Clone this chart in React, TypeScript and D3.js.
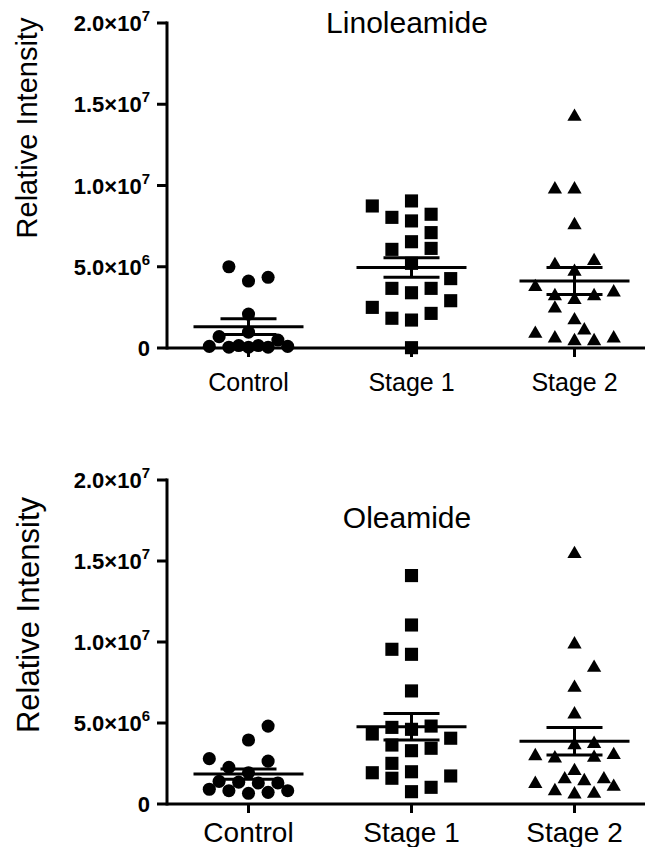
import React from 'react';
import * as d3 from 'd3';

// ---------- DATA (values in units of 1e6) ----------
const categories = ['Control', 'Stage 1', 'Stage 2'];
const yTickValues = [0, 5e6, 1e7, 1.5e7, 2e7];
const yTickMantissa = ['0', '5.0', '1.0', '1.5', '2.0'];
const yTickExponent = ['', '6', '7', '7', '7'];

// Linoleamide
const linoControl = [5.0, 4.35, 4.12, 2.09, 0.97, 0.7, 0.49, 0.1, 0.05, 0.15, 0.05, 0.15, 0.05, 0.1];
const linoControlLane = [-1, 1, 0, 0, 0, -1.5, 1.5, -2, -1, -0.5, 0, 0.5, 1, 2];
const linoStage1 = [8.74, 9.05, 8.04, 7.82, 8.23, 7.1, 6.54, 6.07, 6.13, 5.21, 4.27, 3.67, 3.4, 3.67, 2.91, 2.5, 1.83, 1.72, 2.13, 0.02];
const linoStage1Lane = [-2, 0, -1, 0, 1, 1, 0, -1, 1, 0, 2, -1, 0, 1, 2, -2, -1, 0, 1, 0];
const linoStage2 = [14.3, 9.83, 9.83, 7.63, 5.17, 5.42, 4.76, 3.82, 3.26, 3.02, 3.26, 3.49, 2.5, 1.77, 1.15, 0.94, 0.66, 0.49, 0.49, 0.66];
const linoStage2Lane = [0, -1, 0, 0, -1, 1, 0, -2, -1, 0, 1, 2, -1, 0, 0.5, -2, -1, 0, 1, 2];

// Oleamide
const oleoControl = [4.81, 3.95, 2.8, 2.65, 2.26, 1.93, 1.4, 1.35, 1.3, 1.3, 0.91, 0.82, 0.66, 0.72, 0.82];
const oleoControlLane = [1, 0, -2, 1, -1, 0, -1.5, -0.5, 0.5, 1.5, -2, -1, 0, 1, 2];
const oleoStage1 = [14.1, 11.05, 9.55, 9.24, 6.98, 4.32, 4.73, 4.61, 4.81, 4.06, 3.64, 3.29, 3.44, 2.51, 1.93, 1.59, 1.99, 1.73, 1.03, 0.76];
const oleoStage1Lane = [0, 0, -1, 0, 0, -2, -1, 0, 1, 2, -1, 0, 1, -1, -2, -1, 0, 2, 1, 0];
const oleoStage2 = [15.5, 9.92, 8.48, 7.24, 5.6, 3.7, 3.78, 3.02, 2.88, 2.92, 3.09, 2.1, 1.59, 1.48, 1.31, 1.59, 1.13, 0.86, 0.66, 0.7];
const oleoStage2Lane = [0, 0, 1, 0, 0, 0, 1, -2, -1, 1, 2, 0, -0.5, 0.5, -2, 1.5, 2, -1, 0, 1];

const panelTitles = ['Linoleamide', 'Oleamide'];
const panelValues = [
  [linoControl, linoStage1, linoStage2],
  [oleoControl, oleoStage1, oleoStage2],
];
const panelLanes = [
  [linoControlLane, linoStage1Lane, linoStage2Lane],
  [oleoControlLane, oleoStage1Lane, oleoStage2Lane],
];

// ---------- LAYOUT ----------
const W = 645;
const H = 847;
const axisX = 167;
const layouts = [
  { top: 23, bottom: 348, titleY: 33, titleSize: 30, xLabelY: 391, xLabelSize: 25, yLabelX: 37, yLabelCY: 128, yLabelSize: 29 },
  { top: 480, bottom: 804, titleY: 528, titleSize: 30, xLabelY: 842, xLabelSize: 28, yLabelX: 39, yLabelCY: 615, yLabelSize: 31 },
];
const symbolTypes = [d3.symbolCircle, d3.symbolSquare, d3.symbolTriangle];
const symbolSizes = [135, 172, 88];
const FONT = 'Arial, "Liberation Sans", Helvetica, sans-serif';

const xScale = d3.scaleBand<string>().domain(categories).range([axisX, 656]).padding(0);
const laneScale = d3.scaleLinear().domain([-2, 2]).range([-39.2, 39.2]);

function Panel({ idx }: { idx: number }) {
  const L = layouts[idx];
  const y = d3.scaleLinear().domain([0, 2e7]).range([L.bottom, L.top]);
  const cx = (c: string) => (xScale(c) as number) + xScale.bandwidth() / 2;
  return (
    <g>
      <text x={407} y={L.titleY} textAnchor="middle" fontFamily={FONT} fontSize={L.titleSize}>
        {panelTitles[idx]}
      </text>
      <text
        transform={`translate(${L.yLabelX},${L.yLabelCY}) rotate(-90)`}
        textAnchor="middle"
        fontFamily={FONT}
        fontSize={L.yLabelSize}
      >
        Relative Intensity
      </text>
      {/* y axis */}
      <line x1={axisX} x2={axisX} y1={y(2e7) - 1.5} y2={y(0) + 1.5} stroke="#000" strokeWidth={3} />
      {yTickValues.map((t, i) => (
        <g key={i}>
          <line x1={axisX - 10} x2={axisX} y1={y(t)} y2={y(t)} stroke="#000" strokeWidth={3} />
          <text x={axisX - 17} y={y(t) + 8} textAnchor="end" fontFamily={FONT} fontWeight="bold" fontSize={22}>
            {yTickMantissa[i]}
            {yTickExponent[i] ? (
              <>
                <tspan>×10</tspan>
                <tspan fontSize={15} dy={-10}>{yTickExponent[i]}</tspan>
              </>
            ) : null}
          </text>
        </g>
      ))}
      {/* x axis */}
      <line x1={axisX} x2={W} y1={y(0)} y2={y(0)} stroke="#000" strokeWidth={3} />
      {categories.map((c) => (
        <g key={c}>
          <line x1={cx(c)} x2={cx(c)} y1={y(0)} y2={y(0) + 9} stroke="#000" strokeWidth={3} />
          <text x={cx(c)} y={L.xLabelY} textAnchor="middle" fontFamily={FONT} fontSize={L.xLabelSize}>
            {c}
          </text>
        </g>
      ))}
      {/* points */}
      {categories.map((c, gi) => {
        const vals = panelValues[idx][gi];
        const lanes = panelLanes[idx][gi];
        const path = d3.symbol().type(symbolTypes[gi]).size(symbolSizes[gi])() as string;
        return (
          <g key={c}>
            {vals.map((v, k) => (
              <path
                key={k}
                d={path}
                transform={`translate(${cx(c) + laneScale(lanes[k])},${y(v * 1e6) + (gi === 2 ? 1 : 0)})`}
                fill="#000"
              />
            ))}
          </g>
        );
      })}
      {/* mean ± SEM */}
      {categories.map((c, gi) => {
        const vals = panelValues[idx][gi].map((v) => v * 1e6);
        const m = d3.mean(vals) as number;
        const sem = (d3.deviation(vals) as number) / Math.sqrt(vals.length);
        const x0 = cx(c);
        return (
          <g key={c} stroke="#000" strokeWidth={3}>
            <line x1={x0 - 55} x2={x0 + 55} y1={y(m)} y2={y(m)} />
            <line x1={x0} x2={x0} y1={y(m - sem)} y2={y(m + sem)} />
            <line x1={x0 - 28} x2={x0 + 28} y1={y(m + sem)} y2={y(m + sem)} />
            <line x1={x0 - 28} x2={x0 + 28} y1={y(m - sem)} y2={y(m - sem)} />
          </g>
        );
      })}
    </g>
  );
}

export default function App() {
  return (
    <svg
      width={W}
      height={H}
      viewBox={`0 0 ${W} ${H}`}
      style={{ position: 'absolute', left: 0, top: 0, background: '#fff' }}
    >
      <rect width={W} height={H} fill="#fff" />
      <Panel idx={0} />
      <Panel idx={1} />
    </svg>
  );
}
